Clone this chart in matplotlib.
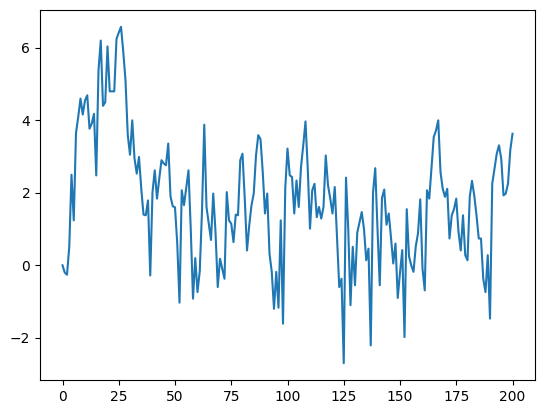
import matplotlib
matplotlib.use('Agg')
import matplotlib.pyplot as plt

# values, one per step 0..200
values = [
    0.0, -0.2, -0.26, 0.5, 2.5, 1.24, 3.65, 4.1, 4.6, 4.16,
    4.55, 4.69, 3.77, 3.91, 4.18, 2.48, 5.38, 6.2, 4.4, 4.5,
    6.04, 4.8, 4.8, 4.8, 6.25, 6.42, 6.58, 5.9, 5.1, 3.6,
    3.05, 4.0, 2.95, 2.53, 2.99, 2.12, 1.4, 1.38, 1.79, -0.28,
    2.02, 2.62, 1.84, 2.39, 2.9, 2.81, 2.76, 3.36, 1.9, 1.63,
    1.6, 0.6, -1.03, 2.07, 1.66, 2.15, 2.62, 1.0, -0.92, 0.2,
    -0.74, -0.16, 1.5, 3.88, 1.61, 1.15, 0.7, 1.98, 0.92, -0.6,
    0.18, -0.09, -0.37, 2.02, 1.24, 1.15, 0.64, 1.4, 1.38, 2.9,
    3.08, 1.84, 0.41, 1.1, 1.66, 1.98, 3.03, 3.59, 3.48, 2.57,
    1.43, 1.98, 0.32, -0.18, -1.2, -0.18, -1.17, 1.24, -1.61, 2.12,
    3.22, 2.48, 2.44, 1.43, 2.34, 1.61, 2.71, 3.31, 3.97, 2.67,
    1.01, 2.07, 2.25, 1.33, 1.61, 1.29, 1.61, 3.03, 2.21, 1.84,
    1.43, 2.16, 0.8, -0.6, -0.37, -2.7, 2.42, 1.0, -1.1, 0.51,
    -0.55, 0.9, 1.18, 1.47, 1.0, 0.14, 0.46, -2.21, 2.0, 2.68,
    1.0, -0.55, 1.86, 2.09, 1.12, 1.43, 0.76, 0.05, 0.6, -0.9,
    -0.2, 0.42, -1.98, 1.55, 0.25, 0.0, -0.18, 0.52, 0.88, 1.82,
    -0.09, -0.69, 2.07, 1.84, 2.7, 3.54, 3.72, 4.0, 2.57, 2.11,
    1.89, 2.11, 0.74, 1.38, 1.55, 1.84, 0.92, 0.41, 1.38, 0.28,
    0.14, 1.89, 2.33, 1.93, 1.38, 0.74, 0.74, -0.37, -0.74, 0.28,
    -1.47, 2.25, 2.67, 3.08, 3.31, 2.94, 1.93, 1.98, 2.25, 3.17,
    3.63,
]
steps = list(range(len(values)))

fig = plt.figure(figsize=(5.46, 4.13), dpi=100)
ax = fig.add_axes([40 / 546, 33 / 413, 495 / 546, 370 / 413])
ax.plot(steps, values)

fig.savefig('out.png', dpi=100)
